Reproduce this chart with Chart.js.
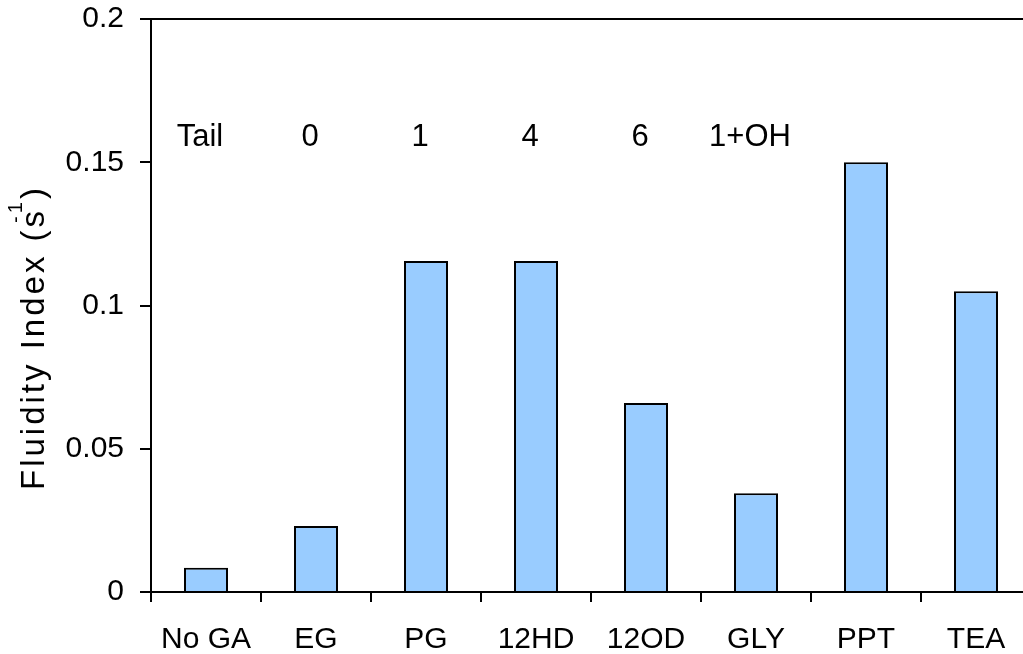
<!DOCTYPE html>
<html>
<head>
<meta charset="utf-8">
<script src="https://cdn.jsdelivr.net/npm/chart.js@4"></script>
<style>
  html, body { margin: 0; padding: 0; background: #fff; overflow: hidden; }
  #wrap { width: 1040px; height: 654px; position: relative; }
</style>
</head>
<body>
<div id="wrap"><canvas id="fluidity"></canvas></div>
<script>
const categories = ['No GA', 'EG', 'PG', '12HD', '12OD', 'GLY', 'PPT', 'TEA'];
const fluidityIndex = [0.0085, 0.023, 0.1155, 0.1155, 0.066, 0.0345, 0.15, 0.105];
const tailLabels = ['Tail', '0', '1', '4', '6', '1+OH', '', ''];
const yTickLabels = ['0', '0.05', '0.1', '0.15', '0.2'];
const tailRowValue = 0.1555;

const FONT = '"Liberation Sans", Arial, sans-serif';

// tail length row + y axis title with superscript
const extraText = {
  id: 'extraText',
  afterDraw(chart){
    const ctx = chart.ctx;
    const x = chart.scales.x, y = chart.scales.y;
    ctx.save();
    ctx.fillStyle = '#000';
    ctx.font = '31px ' + FONT;
    ctx.textAlign = 'center';
    ctx.textBaseline = 'alphabetic';
    tailLabels.forEach((t, i) => {
      if (t) ctx.fillText(t, x.getPixelForValue(i) - 6, y.getPixelForValue(tailRowValue));
    });
    ctx.restore();

    ctx.save();
    ctx.fillStyle = '#000';
    ctx.translate(44, 490);
    ctx.rotate(-Math.PI / 2);
    ctx.textAlign = 'left';
    ctx.textBaseline = 'alphabetic';
    ctx.letterSpacing = '3px';
    ctx.font = '33px ' + FONT;
    const main = 'Fluidity Index (s';
    ctx.fillText(main, 0, 0);
    let w = ctx.measureText(main).width;
    ctx.font = '20px ' + FONT;
    ctx.fillText('-1', w - 15, -22);
    ctx.font = '33px ' + FONT;
    ctx.fillText(')', w + 9, 0);
    ctx.restore();
  }
};

new Chart(document.getElementById('fluidity'), {
  type: 'bar',
  data: {
    labels: categories,
    datasets: [{
      data: fluidityIndex,
      backgroundColor: '#99ccff',
      borderColor: '#000',
      borderWidth: 2,
      barPercentage: 0.4,
      categoryPercentage: 1
    }]
  },
  options: {
    responsive: true,
    maintainAspectRatio: false,
    animation: false,
    layout: { padding: { top: 19, right: 9, left: 0, bottom: 0 } },
    plugins: { legend: { display: false }, tooltip: { enabled: false } },
    scales: {
      x: {
        grid: {
          offset: true,
          drawOnChartArea: false,
          drawTicks: true,
          tickLength: 10,
          tickColor: '#000',
          lineWidth: 2
        },
        border: { color: '#000', width: 2 },
        ticks: { color: '#000', font: { family: FONT, size: 30 }, padding: 20, maxRotation: 0, autoSkip: false },
        afterFit(s){ s.height = 62; s.paddingLeft = 0; s.paddingRight = 0; }
      },
      y: {
        min: 0,
        max: 0.2,
        grid: {
          drawTicks: true,
          tickLength: 11,
          tickColor: '#000',
          color: c => (c.tick && c.tick.value === 0.2) ? '#000' : 'rgba(0,0,0,0)',
          lineWidth: 2
        },
        border: { color: '#000', width: 2 },
        ticks: {
          stepSize: 0.05,
          color: '#000',
          font: { family: FONT, size: 30 },
          padding: 16,
          callback: (v, i) => yTickLabels[i]
        },
        afterFit(s){ s.width = 151; s.paddingTop = 0; s.paddingBottom = 0; }
      }
    }
  },
  plugins: [extraText]
});
</script>
</body>
</html>
